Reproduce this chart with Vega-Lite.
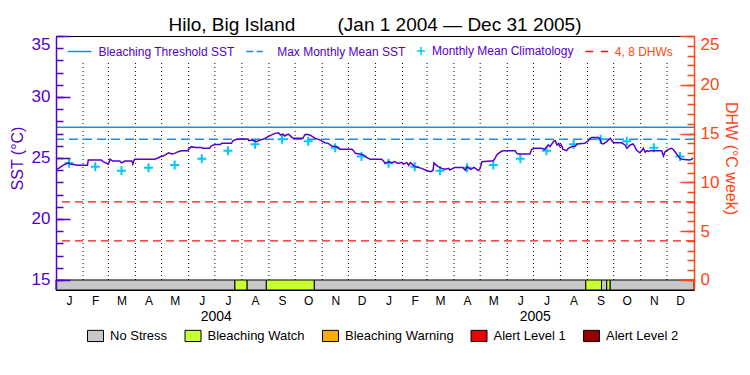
{
  "$schema": "https://vega.github.io/schema/vega-lite/v6.json",
  "width": 638,
  "height": 254,
  "autosize": {"type": "none"},
  "padding": {"left": 56, "top": 36, "right": 56, "bottom": 85},
  "background": "white",
  "title": {
    "text": "Hilo, Big Island\u00a0\u00a0\u00a0\u00a0\u00a0\u00a0\u00a0\u00a0(Jan 1 2004 \u2014 Dec 31 2005)",
    "font": "Liberation Sans", "fontSize": 19, "fontWeight": "normal", "color": "black",
    "anchor": "middle", "baseline": "alphabetic", "offset": 7, "dy": 22
  },
  "config": {
    "view": {"stroke": "black", "strokeWidth": 1},
    "axis": {"grid": false, "labelFont": "Liberation Sans", "titleFont": "Liberation Sans"},
    "legend": {"labelFont": "Liberation Sans"}
  },
  "datasets": {
    "monthStarts": [
      {"date": "2004-02-01"}, {"date": "2004-03-01"}, {"date": "2004-04-01"}, {"date": "2004-05-01"},
      {"date": "2004-06-01"}, {"date": "2004-07-01"}, {"date": "2004-08-01"}, {"date": "2004-09-01"},
      {"date": "2004-10-01"}, {"date": "2004-11-01"}, {"date": "2004-12-01"}, {"date": "2005-01-01"},
      {"date": "2005-02-01"}, {"date": "2005-03-01"}, {"date": "2005-04-01"}, {"date": "2005-05-01"},
      {"date": "2005-06-01"}, {"date": "2005-07-01"}, {"date": "2005-08-01"}, {"date": "2005-09-01"},
      {"date": "2005-10-01"}, {"date": "2005-11-01"}, {"date": "2005-12-01"}
    ],
    "thresholds": [{"threshold": 27.53, "mmm": 26.53}],
    "dhw": [{"dhw": 4}, {"dhw": 8}],
    "legendItems": [
      {"item": "Bleaching Threshold SST"}, {"item": "Max Monthly Mean SST"},
      {"item": "Monthly Mean Climatology"}, {"item": "4, 8 DHWs"}
    ],
    "stress": [
      {"start": "2004-01-01", "end": "2004-07-24", "status": "No Stress"},
      {"start": "2004-07-24", "end": "2004-08-07", "status": "Bleaching Watch"},
      {"start": "2004-08-07", "end": "2004-08-29", "status": "No Stress"},
      {"start": "2004-08-29", "end": "2004-10-23", "status": "Bleaching Watch"},
      {"start": "2004-10-23", "end": "2005-08-30", "status": "No Stress"},
      {"start": "2005-08-30", "end": "2005-09-17", "status": "Bleaching Watch"},
      {"start": "2005-09-17", "end": "2005-09-23", "status": "No Stress"},
      {"start": "2005-09-23", "end": "2005-09-27", "status": "Bleaching Watch"},
      {"start": "2005-09-27", "end": "2006-01-01", "status": "No Stress"}
    ],
    "clim": [
      {"date": "2004-01-16", "clim": 24.56}, {"date": "2004-02-15", "clim": 24.29},
      {"date": "2004-03-16", "clim": 23.96}, {"date": "2004-04-16", "clim": 24.2},
      {"date": "2004-05-16", "clim": 24.43}, {"date": "2004-06-16", "clim": 24.94},
      {"date": "2004-07-16", "clim": 25.6}, {"date": "2004-08-16", "clim": 26.12},
      {"date": "2004-09-16", "clim": 26.53}, {"date": "2004-10-16", "clim": 26.38},
      {"date": "2004-11-16", "clim": 25.85}, {"date": "2004-12-16", "clim": 25.13},
      {"date": "2005-01-16", "clim": 24.56}, {"date": "2005-02-15", "clim": 24.29},
      {"date": "2005-03-16", "clim": 23.96}, {"date": "2005-04-16", "clim": 24.2},
      {"date": "2005-05-16", "clim": 24.43}, {"date": "2005-06-16", "clim": 24.94},
      {"date": "2005-07-16", "clim": 25.6}, {"date": "2005-08-16", "clim": 26.12},
      {"date": "2005-09-16", "clim": 26.53}, {"date": "2005-10-16", "clim": 26.38},
      {"date": "2005-11-16", "clim": 25.85}, {"date": "2005-12-16", "clim": 25.13}
    ],
    "sst": [
      {"date": "2004-01-01", "sst": 24.07}, {"date": "2004-01-04", "sst": 24.15},
      {"date": "2004-01-09", "sst": 24.4}, {"date": "2004-01-15", "sst": 24.6},
      {"date": "2004-01-19", "sst": 24.48}, {"date": "2004-01-26", "sst": 24.4},
      {"date": "2004-02-06", "sst": 24.4}, {"date": "2004-02-07", "sst": 24.84},
      {"date": "2004-02-22", "sst": 24.84}, {"date": "2004-02-24", "sst": 24.7},
      {"date": "2004-02-27", "sst": 24.6}, {"date": "2004-03-01", "sst": 24.5},
      {"date": "2004-03-03", "sst": 24.9}, {"date": "2004-03-06", "sst": 24.75},
      {"date": "2004-03-14", "sst": 24.75}, {"date": "2004-03-16", "sst": 24.6},
      {"date": "2004-03-20", "sst": 24.75}, {"date": "2004-03-28", "sst": 24.75},
      {"date": "2004-03-29", "sst": 24.5}, {"date": "2004-03-31", "sst": 24.9},
      {"date": "2004-04-23", "sst": 24.9}, {"date": "2004-04-27", "sst": 25.0},
      {"date": "2004-05-01", "sst": 25.16}, {"date": "2004-05-03", "sst": 25.16},
      {"date": "2004-05-09", "sst": 25.43}, {"date": "2004-05-13", "sst": 25.33},
      {"date": "2004-05-16", "sst": 25.38}, {"date": "2004-05-20", "sst": 25.52},
      {"date": "2004-05-24", "sst": 25.6}, {"date": "2004-05-31", "sst": 25.6},
      {"date": "2004-06-01", "sst": 25.71}, {"date": "2004-06-04", "sst": 25.93},
      {"date": "2004-06-09", "sst": 25.87}, {"date": "2004-06-16", "sst": 25.87},
      {"date": "2004-06-17", "sst": 25.8}, {"date": "2004-06-25", "sst": 25.8},
      {"date": "2004-06-27", "sst": 26.0}, {"date": "2004-07-01", "sst": 26.1},
      {"date": "2004-07-07", "sst": 26.1}, {"date": "2004-07-09", "sst": 26.2},
      {"date": "2004-07-20", "sst": 26.2}, {"date": "2004-07-22", "sst": 26.42},
      {"date": "2004-07-26", "sst": 26.53}, {"date": "2004-07-28", "sst": 26.55},
      {"date": "2004-08-08", "sst": 26.55}, {"date": "2004-08-09", "sst": 26.42},
      {"date": "2004-08-12", "sst": 26.48}, {"date": "2004-08-18", "sst": 26.34},
      {"date": "2004-08-22", "sst": 26.48}, {"date": "2004-08-26", "sst": 26.55},
      {"date": "2004-08-29", "sst": 26.67}, {"date": "2004-08-31", "sst": 26.75},
      {"date": "2004-09-04", "sst": 26.89}, {"date": "2004-09-08", "sst": 27.02},
      {"date": "2004-09-12", "sst": 27.07}, {"date": "2004-09-14", "sst": 26.89},
      {"date": "2004-09-17", "sst": 26.95}, {"date": "2004-09-19", "sst": 26.8},
      {"date": "2004-09-23", "sst": 26.95}, {"date": "2004-09-25", "sst": 26.85},
      {"date": "2004-09-27", "sst": 26.7}, {"date": "2004-09-29", "sst": 26.61},
      {"date": "2004-10-10", "sst": 26.61}, {"date": "2004-10-12", "sst": 26.89},
      {"date": "2004-10-14", "sst": 26.95}, {"date": "2004-10-18", "sst": 26.89},
      {"date": "2004-10-20", "sst": 26.8}, {"date": "2004-10-24", "sst": 26.61},
      {"date": "2004-10-28", "sst": 26.53}, {"date": "2004-10-31", "sst": 26.42},
      {"date": "2004-11-04", "sst": 26.25}, {"date": "2004-11-08", "sst": 26.2},
      {"date": "2004-11-12", "sst": 25.98}, {"date": "2004-11-18", "sst": 25.93},
      {"date": "2004-11-21", "sst": 25.71}, {"date": "2004-12-05", "sst": 25.71},
      {"date": "2004-12-07", "sst": 25.6}, {"date": "2004-12-09", "sst": 25.38},
      {"date": "2004-12-14", "sst": 25.33}, {"date": "2004-12-18", "sst": 25.25},
      {"date": "2004-12-22", "sst": 25.05}, {"date": "2004-12-26", "sst": 24.89},
      {"date": "2005-01-08", "sst": 24.89}, {"date": "2005-01-10", "sst": 24.78},
      {"date": "2005-01-12", "sst": 24.56}, {"date": "2005-01-16", "sst": 24.7},
      {"date": "2005-01-20", "sst": 24.62}, {"date": "2005-01-23", "sst": 24.7},
      {"date": "2005-01-27", "sst": 24.56}, {"date": "2005-01-31", "sst": 24.64},
      {"date": "2005-02-02", "sst": 24.5}, {"date": "2005-02-06", "sst": 24.62},
      {"date": "2005-02-08", "sst": 24.4}, {"date": "2005-02-10", "sst": 24.62},
      {"date": "2005-02-12", "sst": 24.5}, {"date": "2005-02-15", "sst": 24.29},
      {"date": "2005-02-19", "sst": 24.23}, {"date": "2005-02-23", "sst": 24.15},
      {"date": "2005-02-27", "sst": 24.02}, {"date": "2005-03-05", "sst": 23.88},
      {"date": "2005-03-08", "sst": 23.97}, {"date": "2005-03-09", "sst": 24.61},
      {"date": "2005-03-12", "sst": 24.4}, {"date": "2005-03-14", "sst": 24.29},
      {"date": "2005-03-18", "sst": 24.15}, {"date": "2005-03-22", "sst": 24.07},
      {"date": "2005-03-26", "sst": 24.15}, {"date": "2005-03-27", "sst": 24.02},
      {"date": "2005-03-31", "sst": 24.15}, {"date": "2005-04-02", "sst": 24.23},
      {"date": "2005-04-08", "sst": 24.23}, {"date": "2005-04-11", "sst": 24.23},
      {"date": "2005-04-14", "sst": 24.0}, {"date": "2005-04-16", "sst": 24.29},
      {"date": "2005-04-20", "sst": 24.07}, {"date": "2005-04-24", "sst": 24.23},
      {"date": "2005-04-27", "sst": 24.07}, {"date": "2005-04-29", "sst": 23.97},
      {"date": "2005-05-01", "sst": 24.15}, {"date": "2005-05-03", "sst": 24.7},
      {"date": "2005-05-16", "sst": 24.78}, {"date": "2005-05-18", "sst": 24.97},
      {"date": "2005-05-20", "sst": 25.25}, {"date": "2005-05-22", "sst": 25.38},
      {"date": "2005-05-26", "sst": 25.57}, {"date": "2005-05-29", "sst": 25.6},
      {"date": "2005-06-10", "sst": 25.6}, {"date": "2005-06-12", "sst": 25.38},
      {"date": "2005-06-14", "sst": 25.33}, {"date": "2005-06-27", "sst": 25.33},
      {"date": "2005-06-29", "sst": 25.71}, {"date": "2005-07-03", "sst": 25.8},
      {"date": "2005-07-10", "sst": 25.8}, {"date": "2005-07-14", "sst": 25.71},
      {"date": "2005-07-16", "sst": 25.89}, {"date": "2005-07-18", "sst": 26.07},
      {"date": "2005-07-20", "sst": 25.93}, {"date": "2005-07-24", "sst": 26.34},
      {"date": "2005-07-26", "sst": 26.42}, {"date": "2005-07-28", "sst": 26.07},
      {"date": "2005-07-30", "sst": 26.2}, {"date": "2005-07-31", "sst": 25.98},
      {"date": "2005-08-02", "sst": 26.07}, {"date": "2005-08-04", "sst": 25.71},
      {"date": "2005-08-08", "sst": 25.6}, {"date": "2005-08-10", "sst": 25.8},
      {"date": "2005-08-14", "sst": 25.93}, {"date": "2005-08-18", "sst": 25.98},
      {"date": "2005-08-20", "sst": 26.15}, {"date": "2005-08-29", "sst": 26.2},
      {"date": "2005-09-02", "sst": 26.42}, {"date": "2005-09-04", "sst": 26.61},
      {"date": "2005-09-06", "sst": 26.69}, {"date": "2005-09-13", "sst": 26.69},
      {"date": "2005-09-15", "sst": 26.61}, {"date": "2005-09-17", "sst": 26.2},
      {"date": "2005-09-19", "sst": 26.15}, {"date": "2005-09-23", "sst": 26.34},
      {"date": "2005-09-25", "sst": 26.48}, {"date": "2005-09-27", "sst": 26.61},
      {"date": "2005-09-29", "sst": 26.42}, {"date": "2005-10-01", "sst": 26.25},
      {"date": "2005-10-10", "sst": 26.25}, {"date": "2005-10-14", "sst": 26.07},
      {"date": "2005-10-16", "sst": 25.8}, {"date": "2005-10-20", "sst": 26.07},
      {"date": "2005-10-23", "sst": 26.15}, {"date": "2005-10-25", "sst": 25.98},
      {"date": "2005-10-27", "sst": 25.66}, {"date": "2005-10-29", "sst": 25.53},
      {"date": "2005-10-31", "sst": 25.43}, {"date": "2005-11-02", "sst": 25.6},
      {"date": "2005-11-04", "sst": 25.8}, {"date": "2005-11-06", "sst": 25.47},
      {"date": "2005-11-08", "sst": 25.6}, {"date": "2005-11-10", "sst": 25.53},
      {"date": "2005-11-12", "sst": 25.6}, {"date": "2005-11-25", "sst": 25.6},
      {"date": "2005-11-27", "sst": 25.16}, {"date": "2005-11-29", "sst": 25.53},
      {"date": "2005-12-03", "sst": 25.71}, {"date": "2005-12-06", "sst": 25.8},
      {"date": "2005-12-08", "sst": 25.71}, {"date": "2005-12-10", "sst": 25.53},
      {"date": "2005-12-12", "sst": 25.33}, {"date": "2005-12-14", "sst": 25.16},
      {"date": "2005-12-16", "sst": 24.97}, {"date": "2005-12-18", "sst": 24.89},
      {"date": "2005-12-27", "sst": 24.84}, {"date": "2005-12-29", "sst": 24.89},
      {"date": "2005-12-31", "sst": 25.0}
    ]
  },
  "layer": [
    {
      "data": {"name": "monthStarts"},
      "mark": {"type": "rule", "color": "black", "strokeWidth": 1, "strokeDash": [1, 3]},
      "encoding": {
        "x": {
          "field": "date", "type": "temporal",
          "scale": {"type": "utc", "nice": false, "domain": [{"year": 2004, "month": 1, "date": 1, "utc": true}, {"year": 2006, "month": 1, "date": 1, "utc": true}]},
          "axis": {
            "orient": "bottom",
            "values": [
              {"year": 2004, "month": 1, "date": 16, "utc": true}, {"year": 2004, "month": 2, "date": 15, "utc": true},
              {"year": 2004, "month": 3, "date": 16, "utc": true}, {"year": 2004, "month": 4, "date": 16, "utc": true},
              {"year": 2004, "month": 5, "date": 16, "utc": true}, {"year": 2004, "month": 6, "date": 16, "utc": true},
              {"year": 2004, "month": 7, "date": 16, "utc": true}, {"year": 2004, "month": 8, "date": 16, "utc": true},
              {"year": 2004, "month": 9, "date": 16, "utc": true}, {"year": 2004, "month": 10, "date": 16, "utc": true},
              {"year": 2004, "month": 11, "date": 16, "utc": true}, {"year": 2004, "month": 12, "date": 16, "utc": true},
              {"year": 2005, "month": 1, "date": 16, "utc": true}, {"year": 2005, "month": 2, "date": 15, "utc": true},
              {"year": 2005, "month": 3, "date": 16, "utc": true}, {"year": 2005, "month": 4, "date": 16, "utc": true},
              {"year": 2005, "month": 5, "date": 16, "utc": true}, {"year": 2005, "month": 6, "date": 16, "utc": true},
              {"year": 2005, "month": 7, "date": 16, "utc": true}, {"year": 2005, "month": 8, "date": 16, "utc": true},
              {"year": 2005, "month": 9, "date": 16, "utc": true}, {"year": 2005, "month": 10, "date": 16, "utc": true},
              {"year": 2005, "month": 11, "date": 16, "utc": true}, {"year": 2005, "month": 12, "date": 16, "utc": true}
            ],
            "format": "%b",
            "labelExpr": "substring(datum.label, 0, 1)",
            "ticks": false, "domain": false, "grid": false,
            "labelPadding": 5, "labelFontSize": 12, "labelColor": "black",
            "labelFlush": false, "labelOverlap": false, "labelBound": false,
            "title": null
          }
        },
        "y": {"datum": 15, "type": "quantitative", "scale": {"domain": [14.18, 35], "nice": false, "zero": false}, "axis": null},
        "y2": {"datum": 32.8}
      }
    },
    {
      "data": {"name": "thresholds"},
      "mark": {"type": "rule", "color": "#1e8ce6", "strokeWidth": 1.5},
      "encoding": {
        "y": {
          "field": "threshold", "type": "quantitative",
          "scale": {"domain": [14.18, 35], "nice": false, "zero": false},
          "axis": {
            "orient": "left", "values": [15, 20, 25, 30, 35],
            "ticks": false, "domain": true, "domainColor": "#5500cc", "domainWidth": 1.5,
            "labelColor": "#5500cc", "labelFontSize": 17, "labelPadding": 6,
            "labelFlush": true, "labelOverlap": false, "grid": false,
            "title": "SST (\u00b0C)", "titleColor": "#5500cc", "titleFontSize": 16, "titleFontWeight": "normal",
            "titleX": -39, "titleY": 122, "titleAngle": -90, "titleBaseline": "middle", "titleAlign": "center",
            "zindex": 1
          }
        }
      }
    },
    {
      "data": {"name": "stress"},
      "mark": {"type": "rect", "stroke": "black", "strokeWidth": 1},
      "encoding": {
        "x": {
          "field": "start", "type": "temporal",
          "scale": {"type": "utc", "nice": false, "domain": [{"year": 2004, "month": 1, "date": 1, "utc": true}, {"year": 2006, "month": 1, "date": 1, "utc": true}]},
          "axis": {
            "orient": "bottom",
            "values": [{"year": 2004, "month": 7, "date": 2, "utc": true}, {"year": 2005, "month": 7, "date": 2, "hours": 12, "utc": true}],
            "format": "%Y",
            "ticks": false, "domain": false, "grid": false,
            "labelPadding": 19, "labelFontSize": 14, "labelColor": "black",
            "labelFlush": false, "labelOverlap": false, "labelBound": false,
            "title": null
          }
        },
        "x2": {"field": "end"},
        "y": {
          "datum": 15, "type": "quantitative",
          "scale": {"domain": [14.18, 35], "nice": false, "zero": false},
          "axis": {
            "orient": "left", "values": [15, 20, 25, 30, 35],
            "labels": false, "domain": false, "ticks": true, "tickSize": -14,
            "tickColor": "#5500cc", "tickWidth": 1.5, "grid": false, "title": null, "zindex": 1
          }
        },
        "y2": {"datum": 14.18},
        "color": {
          "field": "status", "type": "nominal",
          "scale": {
            "domain": ["No Stress", "Bleaching Watch", "Bleaching Warning", "Alert Level 1", "Alert Level 2"],
            "range": ["#c8c8c8", "#c8ff32", "#faaa0a", "#f00000", "#960000"]
          },
          "legend": {
            "orient": "none", "legendX": 31, "legendY": 291, "direction": "horizontal", "columns": 5,
            "title": null, "symbolType": "M-1,-0.7H1V0.7H-1Z", "symbolSize": 256,
            "symbolStrokeColor": "black", "symbolStrokeWidth": 1,
            "labelFontSize": 13, "labelColor": "black", "labelOffset": 6, "labelFont": "Liberation Sans",
            "columnPadding": 14.5, "padding": 0
          }
        }
      }
    },
    {
      "data": {"name": "thresholds"},
      "mark": {"type": "rule", "color": "#1e8ce6", "strokeWidth": 1.5, "strokeDash": [9, 5]},
      "encoding": {
        "y": {
          "field": "mmm", "type": "quantitative",
          "scale": {"domain": [14.18, 35], "nice": false, "zero": false},
          "axis": {
            "orient": "left",
            "values": [15, 16, 17, 18, 19, 20, 21, 22, 23, 24, 25, 26, 27, 28, 29, 30, 31, 32, 33, 34, 35],
            "labels": false, "domain": false, "ticks": true, "tickSize": -7,
            "tickColor": "#5500cc", "tickWidth": 1.5, "grid": false, "title": null, "zindex": 1
          }
        }
      }
    },
    {
      "data": {"name": "dhw"},
      "mark": {"type": "rule", "color": "#f01414", "strokeWidth": 1.2, "strokeDash": [8, 5]},
      "encoding": {
        "y": {
          "field": "dhw", "type": "quantitative",
          "scale": {"domain": [-1.0246, 25], "nice": false, "zero": false},
          "axis": {
            "orient": "right", "values": [0, 5, 10, 15, 20, 25],
            "ticks": false, "domain": true, "domainColor": "#ff4514", "domainWidth": 1.5,
            "labelColor": "#ff4514", "labelFontSize": 17, "labelPadding": 6,
            "labelFlush": true, "labelOverlap": false, "grid": false,
            "title": "DHW (\u00b0C week)", "titleColor": "#ff4514", "titleFontSize": 16, "titleFontWeight": "normal",
            "titleX": 36, "titleY": 122, "titleAngle": 90, "titleBaseline": "middle", "titleAlign": "center",
            "zindex": 1
          }
        }
      }
    },
    {
      "data": {"name": "dhw"},
      "transform": [{"filter": "false"}],
      "mark": {"type": "rule", "color": "#f01414"},
      "encoding": {
        "y": {
          "field": "dhw", "type": "quantitative",
          "scale": {"domain": [-1.0246, 25], "nice": false, "zero": false},
          "axis": {
            "orient": "right", "values": [0, 5, 10, 15, 20, 25],
            "labels": false, "domain": false, "ticks": true, "tickSize": -14,
            "tickColor": "#ff4514", "tickWidth": 1.5, "grid": false, "title": null, "zindex": 1
          }
        }
      }
    },
    {
      "data": {"name": "dhw"},
      "transform": [{"filter": "false"}],
      "mark": {"type": "rule", "color": "#f01414"},
      "encoding": {
        "y": {
          "field": "dhw", "type": "quantitative",
          "scale": {"domain": [-1.0246, 25], "nice": false, "zero": false},
          "axis": {
            "orient": "right",
            "values": [0, 1, 2, 3, 4, 5, 6, 7, 8, 9, 10, 11, 12, 13, 14, 15, 16, 17, 18, 19, 20, 21, 22, 23, 24, 25],
            "labels": false, "domain": false, "ticks": true, "tickSize": -7,
            "tickColor": "#ff4514", "tickWidth": 1.5, "grid": false, "title": null, "zindex": 1
          }
        }
      }
    },
    {
      "data": {"name": "clim"},
      "mark": {"type": "point", "shape": "M-1,0H1M0,-1V1", "size": 81, "filled": false, "stroke": "#00c8ff", "strokeWidth": 2, "opacity": 1},
      "encoding": {
        "x": {"field": "date", "type": "temporal", "scale": {"type": "utc", "nice": false, "domain": [{"year": 2004, "month": 1, "date": 1, "utc": true}, {"year": 2006, "month": 1, "date": 1, "utc": true}]}, "axis": null},
        "y": {"field": "clim", "type": "quantitative", "scale": {"domain": [14.18, 35], "nice": false, "zero": false}, "axis": null}
      }
    },
    {
      "data": {"name": "sst"},
      "mark": {"type": "line", "color": "#5500cc", "strokeWidth": 1.5},
      "encoding": {
        "x": {"field": "date", "type": "temporal", "scale": {"type": "utc", "nice": false, "domain": [{"year": 2004, "month": 1, "date": 1, "utc": true}, {"year": 2006, "month": 1, "date": 1, "utc": true}]}, "axis": null},
        "y": {"field": "sst", "type": "quantitative", "scale": {"domain": [14.18, 35], "nice": false, "zero": false}, "axis": null}
      }
    },
    {
      "data": {"name": "legendItems"},
      "transform": [{"filter": "false"}],
      "mark": {"type": "point", "filled": false, "strokeWidth": 1.5, "opacity": 1},
      "encoding": {
        "stroke": {
          "field": "item", "type": "nominal",
          "scale": {
            "domain": ["Bleaching Threshold SST", "Max Monthly Mean SST", "Monthly Mean Climatology", "4, 8 DHWs"],
            "range": ["#1e8ce6", "#1e8ce6", "#00c8ff", "#f01414"]
          },
          "legend": {
            "orient": "none", "legendX": 24.4, "legendY": 9, "direction": "horizontal", "columns": 4,
            "title": null, "symbolSize": 100, "symbolStrokeWidth": 1.5,
            "labelFontSize": 12, "labelOffset": 6, "labelFont": "Liberation Sans",
            "labelColor": {"expr": "datum.value === '4, 8 DHWs' ? '#ff4514' : '#5500cc'"},
            "columnPadding": 7.8, "padding": 0
          }
        },
        "shape": {
          "field": "item", "type": "nominal",
          "scale": {
            "domain": ["Bleaching Threshold SST", "Max Monthly Mean SST", "Monthly Mean Climatology", "4, 8 DHWs"],
            "range": ["M-3.74,0H1", "M-3.8,0H-2.34M-1.74,0H-0.48", "M-0.6,0H1M0.2,-0.8V0.8", "M-3.46,0H-1.92M-0.4,0H1.08"]
          },
          "legend": {
            "orient": "none", "legendX": 24.4, "legendY": 9, "direction": "horizontal", "columns": 4,
            "title": null, "symbolSize": 100, "symbolStrokeWidth": 1.5,
            "labelFontSize": 12, "labelOffset": 6, "labelFont": "Liberation Sans",
            "labelColor": {"expr": "datum.value === '4, 8 DHWs' ? '#ff4514' : '#5500cc'"},
            "columnPadding": 7.8, "padding": 0
          }
        }
      }
    }
  ],
  "resolve": {"scale": {"y": "independent"}, "axis": {"x": "independent", "y": "independent"}}
}
